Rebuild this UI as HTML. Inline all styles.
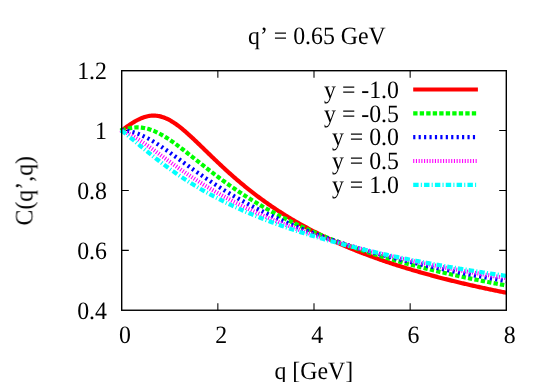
<!DOCTYPE html>
<html><head><meta charset="utf-8"><title>plot</title>
<style>html,body{margin:0;padding:0;background:#fff;overflow:hidden}svg{display:block}text{font-family:"Liberation Serif",serif;fill:#000;text-rendering:geometricPrecision;font-kerning:none}</style></head>
<body>
<svg width="545" height="382" viewBox="0 0 545 382">
<rect x="0" y="0" width="545" height="382" fill="#ffffff"/>
<g stroke="#000" stroke-width="1.05" fill="none">
<path d="M217.85,310.25 v-7.1 M217.85,70.7 v7.1"/>
<path d="M314.00,310.25 v-7.1 M314.00,70.7 v7.1"/>
<path d="M410.15,310.25 v-7.1 M410.15,70.7 v7.1"/>
<path d="M121.7,250.36 h7.1 M506.3,250.36 h-7.1"/>
<path d="M121.7,190.47 h7.1 M506.3,190.47 h-7.1"/>
<path d="M121.7,130.59 h7.1 M506.3,130.59 h-7.1"/>
</g>
<g fill="none" stroke-linejoin="round" stroke-linecap="butt">
<path d="M121.70,130.59 L122.66,129.85 L123.62,129.11 L124.58,128.39 L125.55,127.68 L126.51,126.97 L127.47,126.28 L128.43,125.61 L129.39,124.94 L130.35,124.29 L131.31,123.66 L132.28,123.05 L133.24,122.45 L134.20,121.87 L135.16,121.31 L136.12,120.77 L137.08,120.25 L138.05,119.75 L139.01,119.28 L139.97,118.83 L140.93,118.41 L141.89,118.02 L142.85,117.65 L143.81,117.31 L144.78,117.00 L145.74,116.71 L146.70,116.46 L147.66,116.24 L148.62,116.05 L149.58,115.89 L150.55,115.77 L151.51,115.68 L152.47,115.62 L153.43,115.60 L154.39,115.61 L155.35,115.65 L156.31,115.73 L157.28,115.84 L158.24,115.98 L159.20,116.16 L160.16,116.37 L161.12,116.62 L162.08,116.90 L163.04,117.21 L164.01,117.55 L164.97,117.92 L165.93,118.32 L166.89,118.75 L167.85,119.21 L168.81,119.70 L169.78,120.22 L170.74,120.76 L171.70,121.33 L172.66,121.92 L173.62,122.53 L174.58,123.17 L175.54,123.83 L176.51,124.51 L177.47,125.21 L178.43,125.93 L179.39,126.67 L180.35,127.42 L181.31,128.19 L182.27,128.98 L183.24,129.77 L184.20,130.59 L185.16,131.41 L186.12,132.25 L187.08,133.10 L188.04,133.96 L189.00,134.82 L189.97,135.70 L190.93,136.58 L191.89,137.47 L192.85,138.37 L193.81,139.28 L194.77,140.19 L195.74,141.10 L196.70,142.02 L197.66,142.94 L198.62,143.86 L199.58,144.79 L200.54,145.72 L201.50,146.65 L202.47,147.59 L203.43,148.52 L204.39,149.45 L205.35,150.39 L206.31,151.32 L207.27,152.26 L208.24,153.19 L209.20,154.12 L210.16,155.05 L211.12,155.98 L212.08,156.91 L213.04,157.83 L214.00,158.76 L214.97,159.68 L215.93,160.59 L216.89,161.51 L217.85,162.42 L218.81,163.33 L219.77,164.23 L220.73,165.13 L221.70,166.03 L222.66,166.92 L223.62,167.81 L224.58,168.70 L225.54,169.58 L226.50,170.46 L227.47,171.33 L228.43,172.20 L229.39,173.07 L230.35,173.92 L231.31,174.78 L232.27,175.63 L233.23,176.48 L234.20,177.32 L235.16,178.16 L236.12,178.99 L237.08,179.81 L238.04,180.64 L239.00,181.45 L239.96,182.27 L240.93,183.08 L241.89,183.88 L242.85,184.68 L243.81,185.47 L244.77,186.26 L245.73,187.04 L246.70,187.82 L247.66,188.60 L248.62,189.36 L249.58,190.13 L250.54,190.89 L251.50,191.64 L252.46,192.39 L253.43,193.14 L254.39,193.88 L255.35,194.61 L256.31,195.34 L257.27,196.07 L258.23,196.79 L259.19,197.51 L260.16,198.22 L261.12,198.92 L262.08,199.63 L263.04,200.32 L264.00,201.02 L264.96,201.71 L265.93,202.39 L266.89,203.07 L267.85,203.75 L268.81,204.42 L269.77,205.08 L270.73,205.75 L271.69,206.40 L272.66,207.06 L273.62,207.71 L274.58,208.35 L275.54,208.99 L276.50,209.63 L277.46,210.26 L278.42,210.89 L279.39,211.51 L280.35,212.13 L281.31,212.75 L282.27,213.36 L283.23,213.97 L284.19,214.57 L285.16,215.17 L286.12,215.77 L287.08,216.36 L288.04,216.95 L289.00,217.53 L289.96,218.11 L290.92,218.69 L291.89,219.27 L292.85,219.84 L293.81,220.40 L294.77,220.96 L295.73,221.52 L296.69,222.08 L297.65,222.63 L298.62,223.18 L299.58,223.72 L300.54,224.27 L301.50,224.80 L302.46,225.34 L303.42,225.87 L304.39,226.40 L305.35,226.92 L306.31,227.44 L307.27,227.96 L308.23,228.48 L309.19,228.99 L310.15,229.50 L311.12,230.00 L312.08,230.50 L313.04,231.00 L314.00,231.50 L314.96,231.99 L315.92,232.48 L316.88,232.97 L317.85,233.46 L318.81,233.94 L319.77,234.42 L320.73,234.89 L321.69,235.36 L322.65,235.83 L323.62,236.30 L324.58,236.76 L325.54,237.23 L326.50,237.69 L327.46,238.14 L328.42,238.59 L329.38,239.05 L330.35,239.49 L331.31,239.94 L332.27,240.38 L333.23,240.82 L334.19,241.26 L335.15,241.70 L336.11,242.13 L337.08,242.56 L338.04,242.99 L339.00,243.41 L339.96,243.83 L340.92,244.26 L341.88,244.67 L342.85,245.09 L343.81,245.50 L344.77,245.91 L345.73,246.32 L346.69,246.73 L347.65,247.13 L348.61,247.54 L349.58,247.94 L350.54,248.33 L351.50,248.73 L352.46,249.12 L353.42,249.51 L354.38,249.90 L355.34,250.29 L356.31,250.67 L357.27,251.05 L358.23,251.44 L359.19,251.81 L360.15,252.19 L361.11,252.56 L362.07,252.94 L363.04,253.31 L364.00,253.68 L364.96,254.04 L365.92,254.41 L366.88,254.77 L367.84,255.13 L368.81,255.49 L369.77,255.85 L370.73,256.20 L371.69,256.55 L372.65,256.90 L373.61,257.25 L374.57,257.60 L375.54,257.95 L376.50,258.29 L377.46,258.63 L378.42,258.97 L379.38,259.31 L380.34,259.65 L381.31,259.99 L382.27,260.32 L383.23,260.65 L384.19,260.98 L385.15,261.31 L386.11,261.64 L387.07,261.96 L388.04,262.29 L389.00,262.61 L389.96,262.93 L390.92,263.25 L391.88,263.57 L392.84,263.88 L393.80,264.20 L394.77,264.51 L395.73,264.82 L396.69,265.13 L397.65,265.44 L398.61,265.74 L399.57,266.05 L400.53,266.35 L401.50,266.66 L402.46,266.96 L403.42,267.26 L404.38,267.55 L405.34,267.85 L406.30,268.15 L407.27,268.44 L408.23,268.73 L409.19,269.02 L410.15,269.31 L411.11,269.60 L412.07,269.89 L413.03,270.17 L414.00,270.46 L414.96,270.74 L415.92,271.02 L416.88,271.30 L417.84,271.58 L418.80,271.86 L419.77,272.13 L420.73,272.41 L421.69,272.68 L422.65,272.96 L423.61,273.23 L424.57,273.50 L425.53,273.77 L426.50,274.04 L427.46,274.30 L428.42,274.57 L429.38,274.83 L430.34,275.09 L431.30,275.36 L432.26,275.62 L433.23,275.88 L434.19,276.14 L435.15,276.39 L436.11,276.65 L437.07,276.90 L438.03,277.16 L439.00,277.41 L439.96,277.66 L440.92,277.91 L441.88,278.16 L442.84,278.41 L443.80,278.66 L444.76,278.91 L445.73,279.15 L446.69,279.39 L447.65,279.64 L448.61,279.88 L449.57,280.12 L450.53,280.36 L451.49,280.60 L452.46,280.84 L453.42,281.08 L454.38,281.31 L455.34,281.55 L456.30,281.78 L457.26,282.01 L458.23,282.25 L459.19,282.48 L460.15,282.71 L461.11,282.94 L462.07,283.17 L463.03,283.39 L463.99,283.62 L464.96,283.85 L465.92,284.07 L466.88,284.29 L467.84,284.52 L468.80,284.74 L469.76,284.96 L470.72,285.18 L471.69,285.40 L472.65,285.62 L473.61,285.84 L474.57,286.05 L475.53,286.27 L476.49,286.48 L477.46,286.70 L478.42,286.91 L479.38,287.12 L480.34,287.34 L481.30,287.55 L482.26,287.76 L483.22,287.97 L484.19,288.17 L485.15,288.38 L486.11,288.59 L487.07,288.79 L488.03,289.00 L488.99,289.20 L489.95,289.41 L490.92,289.61 L491.88,289.81 L492.84,290.01 L493.80,290.21 L494.76,290.41 L495.72,290.61 L496.69,290.81 L497.65,291.01 L498.61,291.20 L499.57,291.40 L500.53,291.60 L501.49,291.79 L502.45,291.98 L503.42,292.18 L504.38,292.37 L505.34,292.56 L506.30,292.75" stroke="#ff0000" stroke-width="4.2"/>
<path d="M121.70,130.59 L122.66,130.22 L123.62,129.88 L124.58,129.56 L125.55,129.25 L126.51,128.97 L127.47,128.71 L128.43,128.48 L129.39,128.26 L130.35,128.07 L131.31,127.91 L132.28,127.76 L133.24,127.64 L134.20,127.55 L135.16,127.48 L136.12,127.43 L137.08,127.41 L138.05,127.42 L139.01,127.44 L139.97,127.50 L140.93,127.58 L141.89,127.68 L142.85,127.81 L143.81,127.96 L144.78,128.14 L145.74,128.34 L146.70,128.57 L147.66,128.82 L148.62,129.09 L149.58,129.38 L150.55,129.70 L151.51,130.04 L152.47,130.40 L153.43,130.78 L154.39,131.18 L155.35,131.60 L156.31,132.04 L157.28,132.50 L158.24,132.98 L159.20,133.47 L160.16,133.98 L161.12,134.51 L162.08,135.06 L163.04,135.61 L164.01,136.19 L164.97,136.77 L165.93,137.37 L166.89,137.98 L167.85,138.61 L168.81,139.24 L169.78,139.89 L170.74,140.54 L171.70,141.21 L172.66,141.89 L173.62,142.57 L174.58,143.26 L175.54,143.96 L176.51,144.67 L177.47,145.38 L178.43,146.10 L179.39,146.82 L180.35,147.55 L181.31,148.29 L182.27,149.03 L183.24,149.77 L184.20,150.51 L185.16,151.26 L186.12,152.02 L187.08,152.77 L188.04,153.53 L189.00,154.29 L189.97,155.05 L190.93,155.81 L191.89,156.57 L192.85,157.33 L193.81,158.10 L194.77,158.86 L195.74,159.63 L196.70,160.39 L197.66,161.15 L198.62,161.91 L199.58,162.68 L200.54,163.44 L201.50,164.20 L202.47,164.95 L203.43,165.71 L204.39,166.46 L205.35,167.22 L206.31,167.97 L207.27,168.72 L208.24,169.46 L209.20,170.21 L210.16,170.95 L211.12,171.69 L212.08,172.43 L213.04,173.16 L214.00,173.89 L214.97,174.62 L215.93,175.35 L216.89,176.07 L217.85,176.79 L218.81,177.51 L219.77,178.22 L220.73,178.93 L221.70,179.64 L222.66,180.34 L223.62,181.04 L224.58,181.74 L225.54,182.43 L226.50,183.12 L227.47,183.81 L228.43,184.50 L229.39,185.18 L230.35,185.85 L231.31,186.53 L232.27,187.19 L233.23,187.86 L234.20,188.52 L235.16,189.18 L236.12,189.84 L237.08,190.49 L238.04,191.14 L239.00,191.78 L239.96,192.42 L240.93,193.06 L241.89,193.70 L242.85,194.33 L243.81,194.95 L244.77,195.58 L245.73,196.20 L246.70,196.81 L247.66,197.43 L248.62,198.03 L249.58,198.64 L250.54,199.24 L251.50,199.84 L252.46,200.44 L253.43,201.03 L254.39,201.62 L255.35,202.20 L256.31,202.78 L257.27,203.36 L258.23,203.94 L259.19,204.51 L260.16,205.08 L261.12,205.64 L262.08,206.20 L263.04,206.76 L264.00,207.32 L264.96,207.87 L265.93,208.42 L266.89,208.96 L267.85,209.50 L268.81,210.04 L269.77,210.58 L270.73,211.11 L271.69,211.64 L272.66,212.17 L273.62,212.69 L274.58,213.21 L275.54,213.73 L276.50,214.24 L277.46,214.75 L278.42,215.26 L279.39,215.77 L280.35,216.27 L281.31,216.77 L282.27,217.27 L283.23,217.76 L284.19,218.25 L285.16,218.74 L286.12,219.23 L287.08,219.71 L288.04,220.19 L289.00,220.67 L289.96,221.14 L290.92,221.61 L291.89,222.08 L292.85,222.55 L293.81,223.01 L294.77,223.47 L295.73,223.93 L296.69,224.38 L297.65,224.84 L298.62,225.29 L299.58,225.74 L300.54,226.18 L301.50,226.63 L302.46,227.07 L303.42,227.50 L304.39,227.94 L305.35,228.37 L306.31,228.80 L307.27,229.23 L308.23,229.66 L309.19,230.08 L310.15,230.50 L311.12,230.92 L312.08,231.34 L313.04,231.76 L314.00,232.17 L314.96,232.58 L315.92,232.99 L316.88,233.39 L317.85,233.80 L318.81,234.20 L319.77,234.60 L320.73,234.99 L321.69,235.39 L322.65,235.78 L323.62,236.17 L324.58,236.56 L325.54,236.95 L326.50,237.33 L327.46,237.71 L328.42,238.09 L329.38,238.47 L330.35,238.85 L331.31,239.22 L332.27,239.60 L333.23,239.97 L334.19,240.34 L335.15,240.70 L336.11,241.07 L337.08,241.43 L338.04,241.79 L339.00,242.15 L339.96,242.51 L340.92,242.87 L341.88,243.22 L342.85,243.57 L343.81,243.92 L344.77,244.27 L345.73,244.62 L346.69,244.96 L347.65,245.31 L348.61,245.65 L349.58,245.99 L350.54,246.33 L351.50,246.66 L352.46,247.00 L353.42,247.33 L354.38,247.66 L355.34,247.99 L356.31,248.32 L357.27,248.65 L358.23,248.97 L359.19,249.30 L360.15,249.62 L361.11,249.94 L362.07,250.26 L363.04,250.58 L364.00,250.89 L364.96,251.21 L365.92,251.52 L366.88,251.83 L367.84,252.14 L368.81,252.45 L369.77,252.76 L370.73,253.06 L371.69,253.37 L372.65,253.67 L373.61,253.97 L374.57,254.27 L375.54,254.57 L376.50,254.87 L377.46,255.16 L378.42,255.46 L379.38,255.75 L380.34,256.04 L381.31,256.33 L382.27,256.62 L383.23,256.91 L384.19,257.20 L385.15,257.48 L386.11,257.77 L387.07,258.05 L388.04,258.33 L389.00,258.61 L389.96,258.89 L390.92,259.17 L391.88,259.44 L392.84,259.72 L393.80,259.99 L394.77,260.27 L395.73,260.54 L396.69,260.81 L397.65,261.08 L398.61,261.34 L399.57,261.61 L400.53,261.88 L401.50,262.14 L402.46,262.40 L403.42,262.67 L404.38,262.93 L405.34,263.19 L406.30,263.45 L407.27,263.70 L408.23,263.96 L409.19,264.22 L410.15,264.47 L411.11,264.72 L412.07,264.98 L413.03,265.23 L414.00,265.48 L414.96,265.73 L415.92,265.97 L416.88,266.22 L417.84,266.47 L418.80,266.71 L419.77,266.96 L420.73,267.20 L421.69,267.44 L422.65,267.68 L423.61,267.92 L424.57,268.16 L425.53,268.40 L426.50,268.64 L427.46,268.87 L428.42,269.11 L429.38,269.34 L430.34,269.57 L431.30,269.81 L432.26,270.04 L433.23,270.27 L434.19,270.50 L435.15,270.73 L436.11,270.95 L437.07,271.18 L438.03,271.41 L439.00,271.63 L439.96,271.86 L440.92,272.08 L441.88,272.30 L442.84,272.52 L443.80,272.74 L444.76,272.96 L445.73,273.18 L446.69,273.40 L447.65,273.62 L448.61,273.83 L449.57,274.05 L450.53,274.26 L451.49,274.48 L452.46,274.69 L453.42,274.90 L454.38,275.11 L455.34,275.32 L456.30,275.53 L457.26,275.74 L458.23,275.95 L459.19,276.16 L460.15,276.37 L461.11,276.57 L462.07,276.78 L463.03,276.98 L463.99,277.18 L464.96,277.39 L465.92,277.59 L466.88,277.79 L467.84,277.99 L468.80,278.19 L469.76,278.39 L470.72,278.59 L471.69,278.79 L472.65,278.98 L473.61,279.18 L474.57,279.37 L475.53,279.57 L476.49,279.76 L477.46,279.96 L478.42,280.15 L479.38,280.34 L480.34,280.53 L481.30,280.72 L482.26,280.91 L483.22,281.10 L484.19,281.29 L485.15,281.48 L486.11,281.67 L487.07,281.85 L488.03,282.04 L488.99,282.22 L489.95,282.41 L490.92,282.59 L491.88,282.77 L492.84,282.96 L493.80,283.14 L494.76,283.32 L495.72,283.50 L496.69,283.68 L497.65,283.86 L498.61,284.04 L499.57,284.22 L500.53,284.40 L501.49,284.57 L502.45,284.75 L503.42,284.92 L504.38,285.10 L505.34,285.27 L506.30,285.45" stroke="#00ff00" stroke-width="4.2" stroke-dasharray="4.3408,2.1704"/>
<path d="M121.70,130.59 L122.66,130.60 L123.62,130.63 L124.58,130.69 L125.55,130.77 L126.51,130.87 L127.47,131.00 L128.43,131.15 L129.39,131.32 L130.35,131.51 L131.31,131.72 L132.28,131.95 L133.24,132.21 L134.20,132.49 L135.16,132.78 L136.12,133.10 L137.08,133.43 L138.05,133.78 L139.01,134.15 L139.97,134.54 L140.93,134.95 L141.89,135.37 L142.85,135.81 L143.81,136.27 L144.78,136.74 L145.74,137.22 L146.70,137.72 L147.66,138.23 L148.62,138.76 L149.58,139.29 L150.55,139.84 L151.51,140.40 L152.47,140.98 L153.43,141.56 L154.39,142.15 L155.35,142.75 L156.31,143.36 L157.28,143.98 L158.24,144.60 L159.20,145.23 L160.16,145.87 L161.12,146.52 L162.08,147.17 L163.04,147.83 L164.01,148.49 L164.97,149.16 L165.93,149.83 L166.89,150.51 L167.85,151.19 L168.81,151.87 L169.78,152.56 L170.74,153.24 L171.70,153.93 L172.66,154.63 L173.62,155.32 L174.58,156.02 L175.54,156.72 L176.51,157.41 L177.47,158.11 L178.43,158.81 L179.39,159.51 L180.35,160.21 L181.31,160.91 L182.27,161.61 L183.24,162.31 L184.20,163.01 L185.16,163.71 L186.12,164.41 L187.08,165.10 L188.04,165.80 L189.00,166.49 L189.97,167.18 L190.93,167.87 L191.89,168.56 L192.85,169.25 L193.81,169.93 L194.77,170.62 L195.74,171.30 L196.70,171.97 L197.66,172.65 L198.62,173.32 L199.58,173.99 L200.54,174.66 L201.50,175.33 L202.47,175.99 L203.43,176.65 L204.39,177.31 L205.35,177.97 L206.31,178.62 L207.27,179.27 L208.24,179.92 L209.20,180.56 L210.16,181.20 L211.12,181.84 L212.08,182.47 L213.04,183.10 L214.00,183.73 L214.97,184.36 L215.93,184.98 L216.89,185.60 L217.85,186.22 L218.81,186.83 L219.77,187.44 L220.73,188.04 L221.70,188.65 L222.66,189.25 L223.62,189.85 L224.58,190.44 L225.54,191.03 L226.50,191.62 L227.47,192.20 L228.43,192.78 L229.39,193.36 L230.35,193.94 L231.31,194.51 L232.27,195.08 L233.23,195.64 L234.20,196.21 L235.16,196.77 L236.12,197.32 L237.08,197.88 L238.04,198.43 L239.00,198.97 L239.96,199.52 L240.93,200.06 L241.89,200.60 L242.85,201.13 L243.81,201.66 L244.77,202.19 L245.73,202.72 L246.70,203.24 L247.66,203.76 L248.62,204.28 L249.58,204.79 L250.54,205.30 L251.50,205.81 L252.46,206.32 L253.43,206.82 L254.39,207.32 L255.35,207.82 L256.31,208.31 L257.27,208.80 L258.23,209.29 L259.19,209.78 L260.16,210.26 L261.12,210.74 L262.08,211.22 L263.04,211.69 L264.00,212.17 L264.96,212.64 L265.93,213.10 L266.89,213.57 L267.85,214.03 L268.81,214.49 L269.77,214.95 L270.73,215.40 L271.69,215.85 L272.66,216.30 L273.62,216.75 L274.58,217.19 L275.54,217.63 L276.50,218.07 L277.46,218.51 L278.42,218.94 L279.39,219.38 L280.35,219.81 L281.31,220.23 L282.27,220.66 L283.23,221.08 L284.19,221.50 L285.16,221.92 L286.12,222.34 L287.08,222.75 L288.04,223.16 L289.00,223.57 L289.96,223.98 L290.92,224.38 L291.89,224.79 L292.85,225.19 L293.81,225.59 L294.77,225.98 L295.73,226.38 L296.69,226.77 L297.65,227.16 L298.62,227.55 L299.58,227.93 L300.54,228.32 L301.50,228.70 L302.46,229.08 L303.42,229.46 L304.39,229.83 L305.35,230.21 L306.31,230.58 L307.27,230.95 L308.23,231.32 L309.19,231.69 L310.15,232.05 L311.12,232.41 L312.08,232.78 L313.04,233.13 L314.00,233.49 L314.96,233.85 L315.92,234.20 L316.88,234.55 L317.85,234.90 L318.81,235.25 L319.77,235.60 L320.73,235.94 L321.69,236.29 L322.65,236.63 L323.62,236.97 L324.58,237.31 L325.54,237.64 L326.50,237.98 L327.46,238.31 L328.42,238.64 L329.38,238.97 L330.35,239.30 L331.31,239.63 L332.27,239.95 L333.23,240.28 L334.19,240.60 L335.15,240.92 L336.11,241.24 L337.08,241.56 L338.04,241.87 L339.00,242.19 L339.96,242.50 L340.92,242.81 L341.88,243.12 L342.85,243.43 L343.81,243.74 L344.77,244.04 L345.73,244.35 L346.69,244.65 L347.65,244.95 L348.61,245.25 L349.58,245.55 L350.54,245.85 L351.50,246.14 L352.46,246.44 L353.42,246.73 L354.38,247.02 L355.34,247.31 L356.31,247.60 L357.27,247.89 L358.23,248.18 L359.19,248.46 L360.15,248.75 L361.11,249.03 L362.07,249.31 L363.04,249.59 L364.00,249.87 L364.96,250.15 L365.92,250.43 L366.88,250.70 L367.84,250.98 L368.81,251.25 L369.77,251.52 L370.73,251.79 L371.69,252.06 L372.65,252.33 L373.61,252.60 L374.57,252.86 L375.54,253.13 L376.50,253.39 L377.46,253.65 L378.42,253.91 L379.38,254.17 L380.34,254.43 L381.31,254.69 L382.27,254.95 L383.23,255.20 L384.19,255.46 L385.15,255.71 L386.11,255.97 L387.07,256.22 L388.04,256.47 L389.00,256.72 L389.96,256.97 L390.92,257.21 L391.88,257.46 L392.84,257.71 L393.80,257.95 L394.77,258.19 L395.73,258.44 L396.69,258.68 L397.65,258.92 L398.61,259.16 L399.57,259.40 L400.53,259.63 L401.50,259.87 L402.46,260.10 L403.42,260.34 L404.38,260.57 L405.34,260.81 L406.30,261.04 L407.27,261.27 L408.23,261.50 L409.19,261.73 L410.15,261.96 L411.11,262.18 L412.07,262.41 L413.03,262.64 L414.00,262.86 L414.96,263.08 L415.92,263.31 L416.88,263.53 L417.84,263.75 L418.80,263.97 L419.77,264.19 L420.73,264.41 L421.69,264.63 L422.65,264.84 L423.61,265.06 L424.57,265.27 L425.53,265.49 L426.50,265.70 L427.46,265.92 L428.42,266.13 L429.38,266.34 L430.34,266.55 L431.30,266.76 L432.26,266.97 L433.23,267.18 L434.19,267.38 L435.15,267.59 L436.11,267.79 L437.07,268.00 L438.03,268.20 L439.00,268.41 L439.96,268.61 L440.92,268.81 L441.88,269.01 L442.84,269.21 L443.80,269.41 L444.76,269.61 L445.73,269.81 L446.69,270.01 L447.65,270.21 L448.61,270.40 L449.57,270.60 L450.53,270.79 L451.49,270.99 L452.46,271.18 L453.42,271.37 L454.38,271.56 L455.34,271.76 L456.30,271.95 L457.26,272.14 L458.23,272.33 L459.19,272.52 L460.15,272.70 L461.11,272.89 L462.07,273.08 L463.03,273.26 L463.99,273.45 L464.96,273.63 L465.92,273.82 L466.88,274.00 L467.84,274.18 L468.80,274.37 L469.76,274.55 L470.72,274.73 L471.69,274.91 L472.65,275.09 L473.61,275.27 L474.57,275.45 L475.53,275.62 L476.49,275.80 L477.46,275.98 L478.42,276.15 L479.38,276.33 L480.34,276.50 L481.30,276.68 L482.26,276.85 L483.22,277.03 L484.19,277.20 L485.15,277.37 L486.11,277.54 L487.07,277.71 L488.03,277.88 L488.99,278.05 L489.95,278.22 L490.92,278.39 L491.88,278.56 L492.84,278.73 L493.80,278.89 L494.76,279.06 L495.72,279.23 L496.69,279.39 L497.65,279.56 L498.61,279.72 L499.57,279.89 L500.53,280.05 L501.49,280.21 L502.45,280.37 L503.42,280.54 L504.38,280.70 L505.34,280.86 L506.30,281.02" stroke="#0000ff" stroke-width="4.2" stroke-dasharray="2.1704,3.2556"/>
<path d="M121.70,130.59 L122.66,130.97 L123.62,131.37 L124.58,131.79 L125.55,132.23 L126.51,132.68 L127.47,133.15 L128.43,133.64 L129.39,134.14 L130.35,134.65 L131.31,135.18 L132.28,135.72 L133.24,136.28 L134.20,136.84 L135.16,137.42 L136.12,138.01 L137.08,138.61 L138.05,139.22 L139.01,139.83 L139.97,140.46 L140.93,141.09 L141.89,141.73 L142.85,142.38 L143.81,143.03 L144.78,143.69 L145.74,144.36 L146.70,145.03 L147.66,145.71 L148.62,146.39 L149.58,147.07 L150.55,147.76 L151.51,148.45 L152.47,149.14 L153.43,149.83 L154.39,150.53 L155.35,151.23 L156.31,151.93 L157.28,152.63 L158.24,153.34 L159.20,154.04 L160.16,154.74 L161.12,155.45 L162.08,156.15 L163.04,156.86 L164.01,157.56 L164.97,158.26 L165.93,158.96 L166.89,159.66 L167.85,160.36 L168.81,161.06 L169.78,161.76 L170.74,162.45 L171.70,163.15 L172.66,163.84 L173.62,164.53 L174.58,165.21 L175.54,165.90 L176.51,166.58 L177.47,167.26 L178.43,167.94 L179.39,168.62 L180.35,169.29 L181.31,169.96 L182.27,170.63 L183.24,171.29 L184.20,171.95 L185.16,172.61 L186.12,173.27 L187.08,173.92 L188.04,174.57 L189.00,175.22 L189.97,175.86 L190.93,176.50 L191.89,177.14 L192.85,177.77 L193.81,178.40 L194.77,179.03 L195.74,179.66 L196.70,180.28 L197.66,180.89 L198.62,181.51 L199.58,182.12 L200.54,182.73 L201.50,183.33 L202.47,183.93 L203.43,184.53 L204.39,185.13 L205.35,185.72 L206.31,186.31 L207.27,186.89 L208.24,187.47 L209.20,188.05 L210.16,188.63 L211.12,189.20 L212.08,189.77 L213.04,190.33 L214.00,190.89 L214.97,191.45 L215.93,192.01 L216.89,192.56 L217.85,193.11 L218.81,193.65 L219.77,194.20 L220.73,194.74 L221.70,195.27 L222.66,195.81 L223.62,196.34 L224.58,196.86 L225.54,197.39 L226.50,197.91 L227.47,198.43 L228.43,198.94 L229.39,199.45 L230.35,199.96 L231.31,200.47 L232.27,200.97 L233.23,201.47 L234.20,201.97 L235.16,202.46 L236.12,202.95 L237.08,203.44 L238.04,203.93 L239.00,204.41 L239.96,204.89 L240.93,205.37 L241.89,205.84 L242.85,206.31 L243.81,206.78 L244.77,207.25 L245.73,207.71 L246.70,208.18 L247.66,208.63 L248.62,209.09 L249.58,209.54 L250.54,209.99 L251.50,210.44 L252.46,210.89 L253.43,211.33 L254.39,211.77 L255.35,212.21 L256.31,212.64 L257.27,213.08 L258.23,213.51 L259.19,213.94 L260.16,214.36 L261.12,214.79 L262.08,215.21 L263.04,215.63 L264.00,216.04 L264.96,216.46 L265.93,216.87 L266.89,217.28 L267.85,217.69 L268.81,218.09 L269.77,218.49 L270.73,218.89 L271.69,219.29 L272.66,219.69 L273.62,220.08 L274.58,220.48 L275.54,220.87 L276.50,221.25 L277.46,221.64 L278.42,222.02 L279.39,222.41 L280.35,222.79 L281.31,223.16 L282.27,223.54 L283.23,223.91 L284.19,224.28 L285.16,224.65 L286.12,225.02 L287.08,225.39 L288.04,225.75 L289.00,226.11 L289.96,226.48 L290.92,226.83 L291.89,227.19 L292.85,227.55 L293.81,227.90 L294.77,228.25 L295.73,228.60 L296.69,228.95 L297.65,229.29 L298.62,229.64 L299.58,229.98 L300.54,230.32 L301.50,230.66 L302.46,231.00 L303.42,231.33 L304.39,231.67 L305.35,232.00 L306.31,232.33 L307.27,232.66 L308.23,232.98 L309.19,233.31 L310.15,233.63 L311.12,233.96 L312.08,234.28 L313.04,234.60 L314.00,234.92 L314.96,235.23 L315.92,235.55 L316.88,235.86 L317.85,236.17 L318.81,236.48 L319.77,236.79 L320.73,237.10 L321.69,237.40 L322.65,237.71 L323.62,238.01 L324.58,238.31 L325.54,238.61 L326.50,238.91 L327.46,239.21 L328.42,239.51 L329.38,239.80 L330.35,240.09 L331.31,240.39 L332.27,240.68 L333.23,240.97 L334.19,241.25 L335.15,241.54 L336.11,241.83 L337.08,242.11 L338.04,242.39 L339.00,242.67 L339.96,242.95 L340.92,243.23 L341.88,243.51 L342.85,243.79 L343.81,244.06 L344.77,244.34 L345.73,244.61 L346.69,244.88 L347.65,245.15 L348.61,245.42 L349.58,245.69 L350.54,245.96 L351.50,246.22 L352.46,246.49 L353.42,246.75 L354.38,247.01 L355.34,247.27 L356.31,247.53 L357.27,247.79 L358.23,248.05 L359.19,248.31 L360.15,248.56 L361.11,248.82 L362.07,249.07 L363.04,249.32 L364.00,249.57 L364.96,249.82 L365.92,250.07 L366.88,250.32 L367.84,250.57 L368.81,250.81 L369.77,251.06 L370.73,251.30 L371.69,251.55 L372.65,251.79 L373.61,252.03 L374.57,252.27 L375.54,252.51 L376.50,252.75 L377.46,252.98 L378.42,253.22 L379.38,253.46 L380.34,253.69 L381.31,253.92 L382.27,254.16 L383.23,254.39 L384.19,254.62 L385.15,254.85 L386.11,255.08 L387.07,255.30 L388.04,255.53 L389.00,255.76 L389.96,255.98 L390.92,256.21 L391.88,256.43 L392.84,256.65 L393.80,256.87 L394.77,257.09 L395.73,257.31 L396.69,257.53 L397.65,257.75 L398.61,257.97 L399.57,258.19 L400.53,258.40 L401.50,258.62 L402.46,258.83 L403.42,259.04 L404.38,259.26 L405.34,259.47 L406.30,259.68 L407.27,259.89 L408.23,260.10 L409.19,260.31 L410.15,260.51 L411.11,260.72 L412.07,260.93 L413.03,261.13 L414.00,261.34 L414.96,261.54 L415.92,261.74 L416.88,261.95 L417.84,262.15 L418.80,262.35 L419.77,262.55 L420.73,262.75 L421.69,262.95 L422.65,263.15 L423.61,263.34 L424.57,263.54 L425.53,263.74 L426.50,263.93 L427.46,264.12 L428.42,264.32 L429.38,264.51 L430.34,264.70 L431.30,264.90 L432.26,265.09 L433.23,265.28 L434.19,265.47 L435.15,265.66 L436.11,265.84 L437.07,266.03 L438.03,266.22 L439.00,266.41 L439.96,266.59 L440.92,266.78 L441.88,266.96 L442.84,267.14 L443.80,267.33 L444.76,267.51 L445.73,267.69 L446.69,267.87 L447.65,268.05 L448.61,268.23 L449.57,268.41 L450.53,268.59 L451.49,268.77 L452.46,268.95 L453.42,269.13 L454.38,269.30 L455.34,269.48 L456.30,269.65 L457.26,269.83 L458.23,270.00 L459.19,270.18 L460.15,270.35 L461.11,270.52 L462.07,270.69 L463.03,270.86 L463.99,271.03 L464.96,271.20 L465.92,271.37 L466.88,271.54 L467.84,271.71 L468.80,271.88 L469.76,272.05 L470.72,272.21 L471.69,272.38 L472.65,272.55 L473.61,272.71 L474.57,272.88 L475.53,273.04 L476.49,273.20 L477.46,273.37 L478.42,273.53 L479.38,273.69 L480.34,273.85 L481.30,274.01 L482.26,274.17 L483.22,274.33 L484.19,274.49 L485.15,274.65 L486.11,274.81 L487.07,274.97 L488.03,275.13 L488.99,275.28 L489.95,275.44 L490.92,275.60 L491.88,275.75 L492.84,275.91 L493.80,276.06 L494.76,276.22 L495.72,276.37 L496.69,276.52 L497.65,276.68 L498.61,276.83 L499.57,276.98 L500.53,277.13 L501.49,277.28 L502.45,277.43 L503.42,277.58 L504.38,277.73 L505.34,277.88 L506.30,278.03" stroke="#ff00ff" stroke-width="4.2" stroke-dasharray="1.0852,1.6278"/>
<path d="M121.70,130.59 L122.66,131.34 L123.62,132.10 L124.58,132.86 L125.55,133.63 L126.51,134.41 L127.47,135.19 L128.43,135.97 L129.39,136.76 L130.35,137.55 L131.31,138.34 L132.28,139.14 L133.24,139.94 L134.20,140.74 L135.16,141.54 L136.12,142.34 L137.08,143.14 L138.05,143.94 L139.01,144.74 L139.97,145.54 L140.93,146.34 L141.89,147.13 L142.85,147.93 L143.81,148.72 L144.78,149.51 L145.74,150.30 L146.70,151.09 L147.66,151.87 L148.62,152.65 L149.58,153.43 L150.55,154.20 L151.51,154.97 L152.47,155.74 L153.43,156.51 L154.39,157.27 L155.35,158.03 L156.31,158.78 L157.28,159.53 L158.24,160.27 L159.20,161.02 L160.16,161.75 L161.12,162.49 L162.08,163.22 L163.04,163.94 L164.01,164.67 L164.97,165.38 L165.93,166.10 L166.89,166.80 L167.85,167.51 L168.81,168.21 L169.78,168.90 L170.74,169.60 L171.70,170.28 L172.66,170.97 L173.62,171.64 L174.58,172.32 L175.54,172.99 L176.51,173.65 L177.47,174.32 L178.43,174.97 L179.39,175.63 L180.35,176.27 L181.31,176.92 L182.27,177.56 L183.24,178.19 L184.20,178.82 L185.16,179.45 L186.12,180.07 L187.08,180.69 L188.04,181.31 L189.00,181.92 L189.97,182.53 L190.93,183.13 L191.89,183.73 L192.85,184.32 L193.81,184.91 L194.77,185.50 L195.74,186.08 L196.70,186.66 L197.66,187.24 L198.62,187.81 L199.58,188.37 L200.54,188.94 L201.50,189.50 L202.47,190.05 L203.43,190.61 L204.39,191.16 L205.35,191.70 L206.31,192.24 L207.27,192.78 L208.24,193.32 L209.20,193.85 L210.16,194.38 L211.12,194.90 L212.08,195.42 L213.04,195.94 L214.00,196.45 L214.97,196.96 L215.93,197.47 L216.89,197.97 L217.85,198.48 L218.81,198.97 L219.77,199.47 L220.73,199.96 L221.70,200.45 L222.66,200.93 L223.62,201.42 L224.58,201.90 L225.54,202.37 L226.50,202.84 L227.47,203.31 L228.43,203.78 L229.39,204.25 L230.35,204.71 L231.31,205.17 L232.27,205.62 L233.23,206.08 L234.20,206.53 L235.16,206.97 L236.12,207.42 L237.08,207.86 L238.04,208.30 L239.00,208.74 L239.96,209.17 L240.93,209.60 L241.89,210.03 L242.85,210.46 L243.81,210.88 L244.77,211.30 L245.73,211.72 L246.70,212.14 L247.66,212.55 L248.62,212.97 L249.58,213.37 L250.54,213.78 L251.50,214.19 L252.46,214.59 L253.43,214.99 L254.39,215.39 L255.35,215.78 L256.31,216.17 L257.27,216.56 L258.23,216.95 L259.19,217.34 L260.16,217.72 L261.12,218.11 L262.08,218.49 L263.04,218.86 L264.00,219.24 L264.96,219.61 L265.93,219.99 L266.89,220.35 L267.85,220.72 L268.81,221.09 L269.77,221.45 L270.73,221.81 L271.69,222.17 L272.66,222.53 L273.62,222.89 L274.58,223.24 L275.54,223.59 L276.50,223.94 L277.46,224.29 L278.42,224.64 L279.39,224.98 L280.35,225.32 L281.31,225.67 L282.27,226.00 L283.23,226.34 L284.19,226.68 L285.16,227.01 L286.12,227.34 L287.08,227.67 L288.04,228.00 L289.00,228.33 L289.96,228.66 L290.92,228.98 L291.89,229.30 L292.85,229.62 L293.81,229.94 L294.77,230.26 L295.73,230.57 L296.69,230.89 L297.65,231.20 L298.62,231.51 L299.58,231.82 L300.54,232.13 L301.50,232.44 L302.46,232.74 L303.42,233.05 L304.39,233.35 L305.35,233.65 L306.31,233.95 L307.27,234.25 L308.23,234.54 L309.19,234.84 L310.15,235.13 L311.12,235.42 L312.08,235.71 L313.04,236.00 L314.00,236.29 L314.96,236.58 L315.92,236.86 L316.88,237.15 L317.85,237.43 L318.81,237.71 L319.77,237.99 L320.73,238.27 L321.69,238.55 L322.65,238.82 L323.62,239.10 L324.58,239.37 L325.54,239.64 L326.50,239.91 L327.46,240.18 L328.42,240.45 L329.38,240.72 L330.35,240.99 L331.31,241.25 L332.27,241.52 L333.23,241.78 L334.19,242.04 L335.15,242.30 L336.11,242.56 L337.08,242.82 L338.04,243.08 L339.00,243.33 L339.96,243.59 L340.92,243.84 L341.88,244.09 L342.85,244.35 L343.81,244.60 L344.77,244.85 L345.73,245.09 L346.69,245.34 L347.65,245.59 L348.61,245.83 L349.58,246.08 L350.54,246.32 L351.50,246.56 L352.46,246.80 L353.42,247.04 L354.38,247.28 L355.34,247.52 L356.31,247.76 L357.27,247.99 L358.23,248.23 L359.19,248.46 L360.15,248.70 L361.11,248.93 L362.07,249.16 L363.04,249.39 L364.00,249.62 L364.96,249.85 L365.92,250.08 L366.88,250.30 L367.84,250.53 L368.81,250.75 L369.77,250.98 L370.73,251.20 L371.69,251.42 L372.65,251.65 L373.61,251.87 L374.57,252.09 L375.54,252.30 L376.50,252.52 L377.46,252.74 L378.42,252.96 L379.38,253.17 L380.34,253.39 L381.31,253.60 L382.27,253.81 L383.23,254.02 L384.19,254.24 L385.15,254.45 L386.11,254.66 L387.07,254.86 L388.04,255.07 L389.00,255.28 L389.96,255.49 L390.92,255.69 L391.88,255.90 L392.84,256.10 L393.80,256.31 L394.77,256.51 L395.73,256.71 L396.69,256.91 L397.65,257.11 L398.61,257.31 L399.57,257.51 L400.53,257.71 L401.50,257.91 L402.46,258.10 L403.42,258.30 L404.38,258.49 L405.34,258.69 L406.30,258.88 L407.27,259.08 L408.23,259.27 L409.19,259.46 L410.15,259.65 L411.11,259.84 L412.07,260.03 L413.03,260.22 L414.00,260.41 L414.96,260.60 L415.92,260.78 L416.88,260.97 L417.84,261.16 L418.80,261.34 L419.77,261.53 L420.73,261.71 L421.69,261.89 L422.65,262.08 L423.61,262.26 L424.57,262.44 L425.53,262.62 L426.50,262.80 L427.46,262.98 L428.42,263.16 L429.38,263.34 L430.34,263.52 L431.30,263.69 L432.26,263.87 L433.23,264.04 L434.19,264.22 L435.15,264.39 L436.11,264.57 L437.07,264.74 L438.03,264.92 L439.00,265.09 L439.96,265.26 L440.92,265.43 L441.88,265.60 L442.84,265.77 L443.80,265.94 L444.76,266.11 L445.73,266.28 L446.69,266.45 L447.65,266.61 L448.61,266.78 L449.57,266.95 L450.53,267.11 L451.49,267.28 L452.46,267.44 L453.42,267.61 L454.38,267.77 L455.34,267.93 L456.30,268.10 L457.26,268.26 L458.23,268.42 L459.19,268.58 L460.15,268.74 L461.11,268.90 L462.07,269.06 L463.03,269.22 L463.99,269.38 L464.96,269.54 L465.92,269.69 L466.88,269.85 L467.84,270.01 L468.80,270.16 L469.76,270.32 L470.72,270.47 L471.69,270.63 L472.65,270.78 L473.61,270.94 L474.57,271.09 L475.53,271.24 L476.49,271.39 L477.46,271.55 L478.42,271.70 L479.38,271.85 L480.34,272.00 L481.30,272.15 L482.26,272.30 L483.22,272.45 L484.19,272.59 L485.15,272.74 L486.11,272.89 L487.07,273.04 L488.03,273.18 L488.99,273.33 L489.95,273.48 L490.92,273.62 L491.88,273.77 L492.84,273.91 L493.80,274.06 L494.76,274.20 L495.72,274.34 L496.69,274.49 L497.65,274.63 L498.61,274.77 L499.57,274.91 L500.53,275.05 L501.49,275.19 L502.45,275.33 L503.42,275.47 L504.38,275.61 L505.34,275.75 L506.30,275.89" stroke="#00ffff" stroke-width="4.2" stroke-dasharray="5.4260,2.1704,1.0852,2.1704"/>
</g>
<rect x="119.9" y="128.2" width="2" height="2.2" fill="#00ff00"/>
<rect x="119.2" y="131.0" width="1.2" height="1.3" fill="#ff00ff" fill-opacity="0.3"/>
<rect x="120.1" y="130.4" width="2" height="2.5" fill="#00ffff"/>
<g fill="none" stroke-linecap="butt">
<path d="M413.2,89.5 L477.9,89.5" stroke="#ff0000" stroke-width="4.2"/>
<path d="M413.2,113.4 L477.9,113.4" stroke="#00ff00" stroke-width="4.2" stroke-dasharray="4.3408,2.1704"/>
<path d="M413.2,137.1 L477.9,137.1" stroke="#0000ff" stroke-width="4.2" stroke-dasharray="2.1704,3.2556"/>
<path d="M413.2,161.0 L477.9,161.0" stroke="#ff00ff" stroke-width="4.2" stroke-dasharray="1.0852,1.6278"/>
<path d="M413.2,184.8 L477.9,184.8" stroke="#00ffff" stroke-width="4.2" stroke-dasharray="5.4260,2.1704,1.0852,2.1704"/>
</g>
<rect x="121.7" y="70.7" width="384.60" height="239.55" fill="none" stroke="#000" stroke-width="1.4"/>
<g font-size="25.0" style="opacity:0.999">
<text transform="translate(106.95,318.55) scale(0.953,1)" text-anchor="end">0.4</text>
<text transform="translate(106.95,258.66) scale(0.953,1)" text-anchor="end">0.6</text>
<text transform="translate(106.95,198.77) scale(0.953,1)" text-anchor="end">0.8</text>
<text transform="translate(106.95,138.89) scale(0.953,1)" text-anchor="end">1</text>
<text transform="translate(106.95,79.00) scale(0.953,1)" text-anchor="end">1.2</text>
<text transform="translate(125.00,342.50) scale(0.953,1)" text-anchor="middle">0</text>
<text transform="translate(221.15,342.50) scale(0.953,1)" text-anchor="middle">2</text>
<text transform="translate(317.30,342.50) scale(0.953,1)" text-anchor="middle">4</text>
<text transform="translate(413.45,342.50) scale(0.953,1)" text-anchor="middle">6</text>
<text transform="translate(509.60,342.50) scale(0.953,1)" text-anchor="middle">8</text>
<text transform="translate(316.90,43.60) scale(0.953,1)" text-anchor="middle">q’ = 0.65 GeV</text>
<text transform="translate(313.80,378.50) scale(0.953,1)" text-anchor="middle">q [GeV]</text>
<text transform="translate(32.40,190.80) rotate(-90) scale(0.953,1)" text-anchor="middle">C(q’,q)</text>
<text transform="translate(399.00,97.65) scale(0.953,1)" text-anchor="end">y = -1.0</text>
<text transform="translate(399.00,121.55) scale(0.953,1)" text-anchor="end">y = -0.5</text>
<text transform="translate(399.00,145.25) scale(0.953,1)" text-anchor="end">y = 0.0</text>
<text transform="translate(399.00,169.15) scale(0.953,1)" text-anchor="end">y = 0.5</text>
<text transform="translate(399.00,192.95) scale(0.953,1)" text-anchor="end">y = 1.0</text>
</g>
</svg>
</body></html>
